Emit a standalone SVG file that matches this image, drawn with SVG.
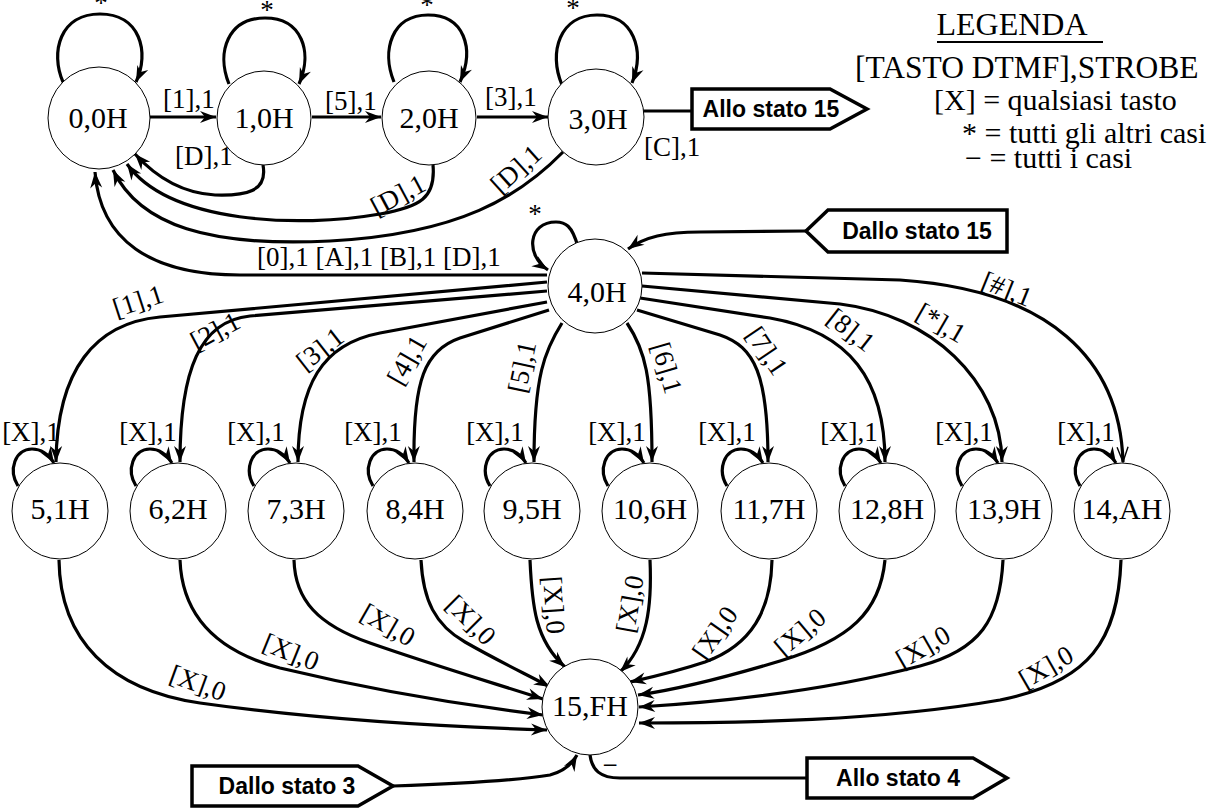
<svg xmlns="http://www.w3.org/2000/svg" width="1226" height="809" viewBox="0 0 1226 809">
<defs>
<marker id="ah" markerUnits="userSpaceOnUse" viewBox="-17 -7 18 14" refX="0" refY="0" markerWidth="18" markerHeight="14" orient="auto"><path d="M0,0 L-16,-6 L-11,0 L-16,6 Z" fill="#000"/></marker>
<marker id="oa" markerUnits="userSpaceOnUse" viewBox="-17 -7 18 14" refX="0" refY="0" markerWidth="18" markerHeight="14" orient="auto"><path d="M-15,-5.5 L0,0 L-15,5.5" fill="none" stroke="#000" stroke-width="1.4"/></marker>
</defs>
<style>
.nd{fill:#fff;stroke:#000;stroke-width:1}
.nt{font-family:"Liberation Serif",serif;font-size:30px;text-anchor:middle;fill:#000}
.e{fill:none;stroke:#000;stroke-width:3.2}
.a{marker-end:url(#ah)}
.lb{font-family:"Liberation Serif",serif;font-size:27px;fill:#000}
.lc{font-family:"Liberation Serif",serif;font-size:27px;fill:#000;text-anchor:middle}
.bx{fill:#fff;stroke:#000;stroke-width:3.5}
.bt{font-family:"Liberation Sans",sans-serif;font-weight:bold;font-size:23px;text-anchor:middle;fill:#000}
.lg{font-family:"Liberation Serif",serif;font-size:30px;fill:#000}
</style>
<rect width="1226" height="809" fill="#fff"/>

<g id="connectors">
<!-- top row -->
<path class="e a" d="M150,117 L216,117"/>
<path class="e a" d="M312,117 L381,117"/>
<path class="e a" d="M477,117 L548,117"/>
<path class="e" d="M643,111 L692,111"/>
<!-- top self loops -->
<path class="e a" d="M63,82 C50,52 60,14 100,14 C140,14 150,52 136,82"/>
<path class="e a" d="M229,84 C216,52 228,18 265,18 C302,18 313,52 299,84"/>
<path class="e a" d="M394,82 C381,50 392,15 428,15 C464,15 475,48 460,82"/>
<path class="e a" d="M562,85 C548,52 560,15 597,15 C634,15 645,50 632,83"/>
<!-- back to 0,0H -->
<path class="e a" d="M263,165 C268,192 245,196 215,195 C180,193 155,176 135,154"/>
<path class="e a" d="M433,165 C436,198 420,207 380,214 C300,228 170,224 127,164"/>
<path class="e a" d="M563,152 C520,196 460,234 330,241 C210,247 140,226 113,170"/>
<path class="e a" d="M547,275 L240,275 C150,275 100,240 95,172"/>
<!-- 4,0H loop and input -->
<path class="e a" d="M578,247 C572,225 565,222 556,222 C528,222 525,255 548,270"/>
<path class="e a" d="M806,231 L700,232 C665,232 645,237 628,249"/>
<!-- 4,0H outgoing -->
<path class="e a" d="M547,282 L160,317 C95,323 57,370 56,462"/>
<path class="e a" d="M547,291 L250,316 C200,321 180,370 180,462"/>
<path class="e a" d="M547,302 L380,333 C322,344 298,385 298,462"/>
<path class="e a" d="M549,310 L460,338 C425,350 413,380 414,462"/>
<path class="e a" d="M562,323 C545,350 534,375 534,462"/>
<path class="e a" d="M627,323 C645,350 652,375 652,462"/>
<path class="e a" d="M637,310 L720,335 C755,347 768,375 768,462"/>
<path class="e a" d="M640,298 L770,318 C850,332 885,380 885,462"/>
<path class="e a" d="M642,286 L840,304 C930,315 1001,380 1002,462"/>
<path class="e" marker-end="url(#oa)" d="M642,273 L900,280 C1050,290 1120,360 1123,462"/>
<!-- bottom self loops -->
<path class="e a" d="M18,486 C8,470 15,449 32,449 C42,449 49,455 54,463"/>
<path class="e a" d="M136,486 C126,470 133,449 150,449 C160,449 167,455 172,463"/>
<path class="e a" d="M254,486 C244,470 251,449 268,449 C278,449 285,455 290,463"/>
<path class="e a" d="M373,486 C363,470 370,449 387,449 C397,449 404,455 409,463"/>
<path class="e a" d="M490,486 C480,470 487,449 504,449 C514,449 521,455 526,463"/>
<path class="e a" d="M608,486 C598,470 605,449 622,449 C632,449 639,455 644,463"/>
<path class="e a" d="M727,486 C717,470 724,449 741,449 C751,449 758,455 763,463"/>
<path class="e a" d="M845,486 C835,470 842,449 859,449 C869,449 876,455 881,463"/>
<path class="e a" d="M962,486 C952,470 959,449 976,449 C986,449 993,455 998,463"/>
<path class="e a" d="M1080,486 C1070,470 1077,449 1094,449 C1104,449 1111,455 1116,463"/>
<!-- into 15,FH -->
<path class="e a" d="M59,560 C60,640 110,690 200,703 C320,720 450,727 547,730"/>
<path class="e a" d="M180,560 C182,612 212,650 280,668 C380,692 470,706 543,715"/>
<path class="e a" d="M294,560 C295,600 318,625 370,643 C430,664 490,682 543,699"/>
<path class="e a" d="M421,560 C423,600 435,625 465,642 C500,662 528,675 550,687"/>
<path class="e a" d="M530,560 C532,605 535,640 565,667"/>
<path class="e a" d="M650,560 C652,605 648,645 620,672"/>
<path class="e a" d="M772,560 C771,610 752,645 705,662 C675,672 652,677 630,682"/>
<path class="e a" d="M885,560 C880,612 850,640 780,661 C720,679 680,689 638,695"/>
<path class="e a" d="M1003,560 C1000,620 980,650 920,666 C820,692 720,702 639,707"/>
<path class="e a" d="M1121,560 C1118,640 1090,682 1000,700 C880,721 740,723 639,723"/>
<!-- external -->
<path class="e a" d="M393,786 C450,784 520,780 550,775 C565,771 572,764 577,755"/>
<path class="e" d="M590,755 C592,770 600,778 620,778 L807,778"/>

<!-- edge labels -->
<text class="lc" x="101" y="12">*</text>
<text class="lc" x="267" y="19">*</text>
<text class="lc" x="427" y="14">*</text>
<text class="lc" x="573" y="17">*</text>
<text class="lc" x="535" y="223">*</text>
<text class="lb" x="163" y="108">[1],1</text>
<text class="lb" x="325" y="110">[5],1</text>
<text class="lb" x="485" y="106">[3],1</text>
<text class="lb" x="644" y="156">[C],1</text>
<text class="lb" x="175" y="165">[D],1</text>
<text class="lc" transform="translate(398,195) rotate(-28)" y="9">[D],1</text>
<text class="lc" transform="translate(516,169) rotate(-42)" y="9">[D],1</text>
<text class="lb" x="257" y="266">[0],1 [A],1 [B],1 [D],1</text>
<text class="lc" transform="translate(138,301) rotate(-18)" y="9">[1],1</text>
<text class="lc" transform="translate(215,331) rotate(-28)" y="9">[2],1</text>
<text class="lc" transform="translate(320,349) rotate(-38)" y="9">[3],1</text>
<text class="lc" transform="translate(407,360) rotate(-60)" y="9">[4],1</text>
<text class="lc" transform="translate(522,367) rotate(-78)" y="9">[5],1</text>
<text class="lc" transform="translate(667,368) rotate(74)" y="9">[6],1</text>
<text class="lc" transform="translate(767,351) rotate(56)" y="9">[7],1</text>
<text class="lc" transform="translate(851,330) rotate(38)" y="9">[8],1</text>
<text class="lc" transform="translate(941,323) rotate(30)" y="9">[*],1</text>
<text class="lc" transform="translate(1007,289) rotate(22)" y="9">[#],1</text>
<text class="lc" x="31" y="441">[X],1</text>
<text class="lc" x="148" y="441">[X],1</text>
<text class="lc" x="256" y="441">[X],1</text>
<text class="lc" x="373" y="441">[X],1</text>
<text class="lc" x="495" y="441">[X],1</text>
<text class="lc" x="617" y="441">[X],1</text>
<text class="lc" x="727" y="441">[X],1</text>
<text class="lc" x="849" y="441">[X],1</text>
<text class="lc" x="964" y="441">[X],1</text>
<text class="lc" x="1086" y="441">[X],1</text>
<text class="lc" transform="translate(198,683) rotate(20)" y="9">[X],0</text>
<text class="lc" transform="translate(291,652) rotate(22)" y="9">[X],0</text>
<text class="lc" transform="translate(388,625) rotate(30)" y="9">[X],0</text>
<text class="lc" transform="translate(471,620) rotate(45)" y="9">[X],0</text>
<text class="lc" transform="translate(554,605) rotate(86)" y="9">[X],0</text>
<text class="lc" transform="translate(630,604) rotate(-80)" y="9">[X],0</text>
<text class="lc" transform="translate(715,633) rotate(-55)" y="9">[X],0</text>
<text class="lc" transform="translate(800,632) rotate(-40)" y="9">[X],0</text>
<text class="lc" transform="translate(923,647) rotate(-30)" y="9">[X],0</text>
<text class="lc" transform="translate(1046,667) rotate(-30)" y="9">[X],0</text>
<text class="lc" x="610" y="774">−</text>
</g>

<g id="n0"><circle class="nd" cx="99" cy="118" r="51"/><text class="nt" x="98" y="128">0,0H</text></g>
<g id="n1"><circle class="nd" cx="264" cy="118" r="47"/><text class="nt" x="264" y="128">1,0H</text></g>
<g id="n2"><circle class="nd" cx="429" cy="118" r="47"/><text class="nt" x="429" y="128">2,0H</text></g>
<g id="n3"><circle class="nd" cx="596" cy="117" r="48"/><text class="nt" x="598" y="129">3,0H</text></g>
<g id="n4"><circle class="nd" cx="595" cy="286" r="47"/><text class="nt" x="597" y="302">4,0H</text></g>
<g id="n5"><circle class="nd" cx="60" cy="511" r="48"/><text class="nt" x="60" y="519">5,1H</text></g>
<g id="n6"><circle class="nd" cx="178" cy="511" r="48"/><text class="nt" x="178" y="519">6,2H</text></g>
<g id="n7"><circle class="nd" cx="296" cy="511" r="48"/><text class="nt" x="296" y="519">7,3H</text></g>
<g id="n8"><circle class="nd" cx="415" cy="511" r="48"/><text class="nt" x="415" y="519">8,4H</text></g>
<g id="n9"><circle class="nd" cx="532" cy="511" r="48"/><text class="nt" x="532" y="519">9,5H</text></g>
<g id="n10"><circle class="nd" cx="650" cy="511" r="48"/><text class="nt" x="650" y="519">10,6H</text></g>
<g id="n11"><circle class="nd" cx="769" cy="511" r="48"/><text class="nt" x="769" y="519">11,7H</text></g>
<g id="n12"><circle class="nd" cx="887" cy="511" r="48"/><text class="nt" x="887" y="519">12,8H</text></g>
<g id="n13"><circle class="nd" cx="1004" cy="511" r="48"/><text class="nt" x="1004" y="519">13,9H</text></g>
<g id="n14"><circle class="nd" cx="1122" cy="511" r="48"/><text class="nt" x="1122" y="519">14,AH</text></g>
<g id="n15"><circle class="nd" cx="590" cy="707" r="48"/><text class="nt" x="590" y="716">15,FH</text></g>

<g id="to15"><path class="bx" d="M692,89 L830,89 L867,109 L830,129 L692,129 Z"/><text class="bt" x="771" y="117">Allo stato 15</text></g>
<g id="from15"><path class="bx" d="M806,231 L828,210 L1007,210 L1007,252 L828,252 Z"/><text class="bt" x="917" y="239">Dallo stato 15</text></g>
<g id="from3"><path class="bx" d="M192,766 L358,766 L393,786 L358,806 L192,806 Z"/><text class="bt" x="287" y="794">Dallo stato 3</text></g>
<g id="to4"><path class="bx" d="M807,758 L973,758 L1007,778 L973,798 L807,798 Z"/><text class="bt" x="898" y="786">Allo stato 4</text></g>

<g id="legend">
<text class="lg" x="1012" y="35" text-anchor="middle" style="font-size:32px">LEGENDA</text>
<line x1="937" y1="42" x2="1103" y2="42" stroke="#000" stroke-width="2"/>
<text class="lg" x="855" y="78" style="font-size:31.5px">[TASTO DTMF],STROBE</text>
<text class="lg" x="934" y="110">[X] = qualsiasi tasto</text>
<text class="lg" x="962" y="143">* = tutti gli altri casi</text>
<text class="lg" x="965" y="168">− = tutti i casi</text>
</g>
</svg>
